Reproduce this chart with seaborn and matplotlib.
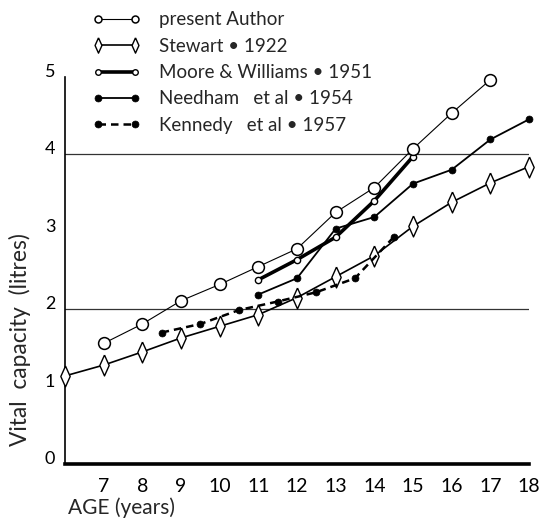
import matplotlib
matplotlib.use("Agg")
import matplotlib.pyplot as plt
import seaborn as sns

# values (vital capacity in litres)
author_age = [7, 8, 9, 10, 11, 12, 13, 14, 15, 16, 17]
author_vc = [1.56, 1.81, 2.11, 2.32, 2.55, 2.78, 3.25, 3.57, 4.07, 4.53, 4.96]

stewart_age = [6, 7, 8, 9, 10, 11, 12, 13, 14, 15, 16, 17, 18]
stewart_vc = [1.14, 1.28, 1.45, 1.63, 1.78, 1.93, 2.15, 2.42, 2.69, 3.07, 3.38, 3.63, 3.84]

moore_age = [11, 12, 13, 14, 15]
moore_vc = [2.38, 2.64, 2.93, 3.40, 3.97]

needham_age = [11, 12, 13, 14, 15, 16, 17, 18]
needham_vc = [2.19, 2.40, 3.04, 3.19, 3.62, 3.80, 4.19, 4.45]

kennedy_age = [8.5, 9.5, 10.5, 11.5, 12.5, 13.5, 14.5]
kennedy_vc = [1.70, 1.81, 1.99, 2.10, 2.22, 2.40, 2.93]

x_ticks = list(range(6, 19))
x_labels = [""] + [str(a) for a in range(7, 19)]
y_ticks = [0, 1, 2, 3, 4, 5]

sns.set_style("white")
plt.rcParams["font.family"] = ["Lato", "DejaVu Sans"]

fig = plt.figure(figsize=(5.43, 5.18), dpi=100)
ax = fig.add_axes([65 / 543, 1 - 464.3 / 518, 464 / 543, 387.6 / 518])

diamond = [(0, 1), (0.45, 0), (0, -1), (-0.45, 0), (0, 1)]

# reference lines at 2 and 4 litres
for g in (2, 4):
    ax.axhline(g, color="#333333", lw=0.9, zorder=1)

sns.lineplot(x=stewart_age, y=stewart_vc, ax=ax, color="black", lw=1.2,
             marker=diamond, markersize=15, markerfacecolor="white",
             markeredgecolor="black", markeredgewidth=1.0,
             label="Stewart \u2022 1922", zorder=3, clip_on=False)
sns.lineplot(x=kennedy_age, y=kennedy_vc, ax=ax, color="black", lw=1.8,
             linestyle=(0, (3, 2)), marker="o", markersize=5,
             markerfacecolor="black", markeredgecolor="black",
             markeredgewidth=0.5, label="Kennedy   et al \u2022 1957",
             zorder=4, clip_on=False)
sns.lineplot(x=needham_age, y=needham_vc, ax=ax, color="black", lw=1.3,
             marker="o", markersize=5, markerfacecolor="black",
             markeredgecolor="black", markeredgewidth=0.5,
             label="Needham   et al \u2022 1954", zorder=4, clip_on=False)
sns.lineplot(x=moore_age, y=moore_vc, ax=ax, color="black", lw=2.6,
             marker="o", markersize=4.5, markerfacecolor="white",
             markeredgecolor="black", markeredgewidth=1.0,
             label="Moore & Williams \u2022 1951", zorder=5, clip_on=False)
sns.lineplot(x=author_age, y=author_vc, ax=ax, color="black", lw=0.8,
             marker="o", markersize=8.5, markerfacecolor="white",
             markeredgecolor="black", markeredgewidth=1.1,
             label="present Author", zorder=6, clip_on=False)

ax.set_xlim(6, 18)
ax.set_ylim(0, 5)
ax.set_xticks(x_ticks)
ax.set_xticklabels(x_labels, fontsize=14)
ax.set_yticks(y_ticks)
ax.set_yticklabels([str(v) for v in y_ticks], fontsize=13)
for lab in ax.get_yticklabels():
    lab.set_verticalalignment("baseline")
ax.tick_params(axis="x", direction="out", length=3, width=1, pad=7, colors="black")
ax.tick_params(axis="y", direction="out", length=3, width=1, pad=4, colors="black")
ax.set_xlabel("")
ax.set_ylabel("")

sns.despine(ax=ax)
ax.spines["left"].set_linewidth(1.2)
ax.spines["left"].set_color("black")
ax.spines["bottom"].set_linewidth(2.6)
ax.spines["bottom"].set_color("black")

# legend in the original order, smaller markers than in the plot
handles, labels = ax.get_legend_handles_labels()
order = ["present Author", "Stewart \u2022 1922", "Moore & Williams \u2022 1951",
         "Needham   et al \u2022 1954", "Kennedy   et al \u2022 1957"]
hmap = dict(zip(labels, handles))
leg = fig.legend([hmap[k] for k in order], order, loc="upper left",
                 bbox_to_anchor=(83 / 543, 1 - 2 / 518), frameon=False,
                 fontsize=13.5, numpoints=2, handlelength=2.55,
                 handletextpad=1.0, labelspacing=0.50, borderpad=0)
for h, ms in zip(leg.legend_handles, [5, 11, 4, 5, 5]):
    h.set_markersize(ms)
ax.get_legend().remove()

fig.text(68 / 543, 1 - 508 / 518, "AGE (years)", fontsize=15, ha="left", va="center")
fig.text(20 / 543, 1 - 340 / 518, "Vital  capacity  (litres)", fontsize=16.4,
         rotation=90, ha="center", va="center")

fig.savefig("out.png", dpi=100)
